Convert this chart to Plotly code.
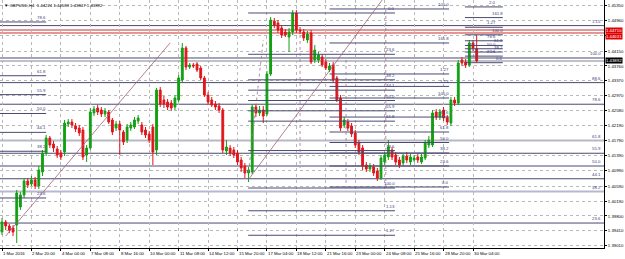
import plotly.graph_objects as go

# ---------------- data ----------------
open_ = [1.39377,1.39641,1.39536,1.39483,1.39562,1.40037,1.40354,1.40724,1.40644,1.40750,
         1.40592,1.40961,1.41463,1.41859,1.41700,1.41568,1.41463,1.41489,1.42228,1.42281,
         1.42176,1.42123,1.42070,1.41410,1.41595,1.42519,1.42651,1.42598,1.42492,1.42545,
         1.42334,1.42123,1.42228,1.42017,1.41806,1.42123,1.42149,1.42308,1.42202,1.42070,
         1.41964,1.42149,1.41542,1.43126,1.42862,1.42809,1.42783,1.42677,1.42862,1.43390,
         1.44235,1.43733,1.43786,1.43812,1.43707,1.43443,1.42994,1.42862,1.42756,1.42704,
         1.42598,1.41516,1.41595,1.41542,1.41463,1.41278,1.41120,1.40935,1.40961,1.42677,
         1.42519,1.42598,1.42492,1.43548,1.44948,1.44895,1.44763,1.44657,1.44525,1.44657,
         1.45159,1.44710,1.44657,1.44446,1.44631,1.43918,1.43918,1.43997,1.43865,1.43654,
         1.43786,1.43443,1.42915,1.42202,1.42281,1.42176,1.41991,1.41727,1.41595,1.41146,
         1.41040,1.41093,1.40988,1.40803,1.41225,1.41357,1.41542,1.41410,1.41278,1.41199,
         1.41384,1.41225,1.41278,1.41357,1.41225,1.41331,1.41674,1.41674,1.42545,1.42413,
         1.42598,1.42387,1.42255,1.42862,1.42783,1.43918,1.43865,1.43786,1.44367,1.44224]
high = [1.39747,1.39694,1.39588,1.39562,1.40486,1.40433,1.40803,1.40803,1.40856,1.40829,
        1.41120,1.41542,1.41938,1.41912,1.41780,1.41648,1.41542,1.42334,1.42360,1.42360,
        1.42255,1.42202,1.42149,1.41674,1.42651,1.42704,1.42730,1.42677,1.42651,1.42598,
        1.42387,1.42308,1.42308,1.42070,1.42228,1.42281,1.42413,1.42466,1.42281,1.42149,
        1.42044,1.42228,1.43179,1.43205,1.42968,1.42888,1.42862,1.42994,1.43522,1.44367,
        1.44288,1.43839,1.43839,1.43865,1.43760,1.43496,1.43073,1.42941,1.42836,1.42783,
        1.42651,1.41806,1.41674,1.41621,1.41542,1.41357,1.41199,1.41093,1.42756,1.42756,
        1.42704,1.42704,1.43628,1.45053,1.45027,1.44974,1.44842,1.44736,1.44763,1.45238,
        1.45238,1.44789,1.44736,1.44684,1.44710,1.44314,1.44129,1.44076,1.43944,1.43839,
        1.43865,1.43496,1.42994,1.42413,1.42360,1.42255,1.42070,1.41806,1.41674,1.41225,
        1.41199,1.41172,1.41067,1.41410,1.41489,1.41806,1.41621,1.41489,1.41357,1.41463,
        1.41489,1.41436,1.41410,1.41436,1.41436,1.41806,1.41912,1.42598,1.42624,1.42624,
        1.42677,1.42466,1.42941,1.42941,1.43918,1.43997,1.43944,1.44446,1.44446,1.44583]
low = [1.39298,1.39430,1.39351,1.39272,1.39087,1.39958,1.40275,1.40539,1.40592,1.40512,
       1.40512,1.40856,1.41384,1.41595,1.41489,1.41331,1.41278,1.41384,1.42149,1.42123,
       1.42017,1.41912,1.41278,1.41225,1.41542,1.42440,1.42466,1.42413,1.42413,1.42228,
       1.41938,1.42044,1.41410,1.41674,1.41727,1.42044,1.42096,1.42228,1.41938,1.41859,
       1.41727,1.41146,1.41410,1.42677,1.42651,1.42598,1.42572,1.42598,1.42809,1.43337,
       1.43654,1.43680,1.43707,1.43601,1.43390,1.42941,1.42730,1.42677,1.42598,1.42519,
       1.41463,1.41410,1.41384,1.41331,1.41146,1.40961,1.40803,1.40697,1.40908,1.42413,
       1.42440,1.42255,1.42440,1.43496,1.44763,1.44631,1.44499,1.44525,1.44129,1.44578,
       1.44631,1.44604,1.44420,1.44367,1.43812,1.43839,1.43839,1.43733,1.43654,1.43601,
       1.43337,1.42809,1.42044,1.42123,1.42044,1.41885,1.41595,1.41410,1.41014,1.40961,
       1.40961,1.40856,1.40724,1.40750,1.41146,1.41278,1.41278,1.41146,1.41067,1.41120,
       1.41199,1.41146,1.41225,1.41199,1.41172,1.41278,1.41595,1.41621,1.42334,1.42334,
       1.42308,1.42202,1.42176,1.42704,1.42730,1.43760,1.43707,1.43733,1.44156,1.43847]
close = [1.39641,1.39536,1.39430,1.39377,1.40407,1.40354,1.40724,1.40618,1.40750,1.40592,
         1.41014,1.41463,1.41859,1.41674,1.41595,1.41410,1.41357,1.42255,1.42281,1.42202,
         1.42096,1.41991,1.41357,1.41595,1.42545,1.42624,1.42545,1.42492,1.42572,1.42281,
         1.42017,1.42228,1.42070,1.41753,1.42149,1.42202,1.42334,1.42387,1.42017,1.41938,
         1.41806,1.41489,1.43126,1.42756,1.42756,1.42677,1.42651,1.42915,1.43443,1.44235,
         1.43733,1.43786,1.43760,1.43654,1.43443,1.42994,1.42809,1.42730,1.42677,1.42598,
         1.41542,1.41621,1.41463,1.41410,1.41225,1.41067,1.40935,1.41014,1.42677,1.42519,
         1.42598,1.42440,1.43548,1.44974,1.44842,1.44710,1.44578,1.44578,1.44657,1.45159,
         1.44710,1.44684,1.44499,1.44604,1.43865,1.44182,1.44050,1.43786,1.43707,1.43760,
         1.43390,1.42862,1.42123,1.42334,1.42123,1.41964,1.41674,1.41489,1.41120,1.41040,
         1.41120,1.40935,1.40803,1.41331,1.41410,1.41621,1.41357,1.41225,1.41146,1.41384,
         1.41278,1.41357,1.41331,1.41278,1.41357,1.41727,1.41806,1.42519,1.42413,1.42545,
         1.42387,1.42281,1.42862,1.42783,1.43839,1.43839,1.43786,1.44367,1.44235,1.43892]
bars = list(range(len(open_)))

date_label_bars = [0, 8, 16, 24, 32, 40, 48, 56, 64, 72, 80, 88, 96, 104, 112, 120, 128]
date_labels = ["1 Mar 2016", "2 Mar 20:00", "4 Mar 04:00", "7 Mar 08:00", "8 Mar 16:00",
               "10 Mar 00:00", "11 Mar 08:00", "14 Mar 12:00", "15 Mar 20:00", "17 Mar 04:00",
               "18 Mar 12:00", "21 Mar 16:00", "23 Mar 00:00", "24 Mar 08:00", "25 Mar 16:00",
               "28 Mar 20:00", "30 Mar 04:00"]

# the 1.44555 label is hidden behind the red price boxes in the reference
price_ticks = [1.45350, 1.44960, 1.44555, 1.44150, 1.43760, 1.43370, 1.42970, 1.42580, 1.42190,
               1.41790, 1.41390, 1.40990, 1.40590, 1.40190, 1.39800, 1.39410, 1.39010]
price_tick_labels = ["1.45350", "1.44960", "", "1.44150", "1.43760", "1.43370", "1.42970",
                     "1.42580", "1.42190", "1.41790", "1.41390", "1.40990", "1.40590", "1.40190",
                     "1.39800", "1.39410", "1.39010"]

header = "GBPUSD,H4  1.44224 1.44583 1.43847 1.43892"
bid_price = 1.43892
red_lines = [1.44710, 1.44631]

# Fibonacci objects: 0% price, 100% price, levels, labels, bar span
fibA_p0, fibA_p100 = 1.38268, 1.43971
fibA_levels = [23.6, 38.2, 44.1, 50.0, 55.9, 61.8, 78.6, 88.6, 100.0, 115.0]
fibA_labels = ["23.6", "38.2", "44.1", "50.0", "55.9", "61.8", "78.6", "88.6", "100.0", "1.15"]

fibB_p0, fibB_p100 = 1.38282, 1.46730
fibB_levels = [23.6, 38.2, 44.1, 50.0, 55.9, 61.8, 78.6]
fibB_labels = ["23.6", "38.2", "44.1", "50.0", "55.9", "61.8", "78.6"]
fibB_span = [-1.0, 12.0]

fibC_p0, fibC_p100 = 1.45159, 1.40539
fibC_levels = [0.0, 23.6, 38.2, 44.1, 50.0, 55.9, 61.8, 78.6, 100.0, 113.0, 127.0]
fibC_labels = ["0.0", "23.6", "38.2", "44.1", "50.0", "55.9", "61.8", "78.6", "100.0", "1.13", "1.27"]
fibC_span = [66.9, 106.8]

fibD_p0, fibD_p100 = 1.40565, 1.42915
fibD_levels = [0.0, 23.6, 38.2, 50.0, 61.8, 78.6, 100.0, 113.0, 127.0, 161.8, 200.0]
fibD_labels = ["0.0", "23.6", "38.2", "50.0", "61.8", "78.6", "100.0", "1.13", "1.27", "161.8", "100.0"]
fibD_span = [89.0, 121.5]

fibE_p0, fibE_p100 = 1.43847, 1.44583
fibE_levels = [0.0, 23.6, 38.2, 50.0, 61.8, 78.6, 100.0, 127.0, 161.8, 200.0]
fibE_labels = ["0.0", "23.6", "38.2", "50.0", "61.8", "78.6", "100.0", "1.27", "161.8", "2.0"]
fibE_span = [125.8, 136.1]

trend1_bars, trend1_prices = [1.0, 45.7], [1.3927, 1.4437]
trend2_bars, trend2_prices = [66.9, 103.3], [1.4075, 1.4550]

# dotted helper lines (bar, price) pairs
dotted_bars = [[67.0, 71.0], [81.0, 81.0], [93.5, 93.5], [104.3, 104.3]]
dotted_prices = [[1.4096, 1.4444], [1.4458, 1.4107], [1.4392, 1.4049], [1.4524, 1.4049]]

# ---------------- figure ----------------
GREEN = "#12a012"
RED = "#e0161b"
FIBCOL = "#4a4a72"
LBLCOL = "#3a3a7a"
FS = 4.3
FONT = "Liberation Sans"

fig = go.Figure()

def lvl_price(p0, p100, lv):
    return p0 + (p100 - p0) * lv / 100.0

shapes = []
for lv in fibA_levels:
    pr = lvl_price(fibA_p0, fibA_p100, lv)
    light = lv in (61.8, 38.2)
    shapes.append(dict(type="line", xref="paper", x0=0, x1=1, yref="y", y0=pr, y1=pr,
                       line=dict(color="#b8b8cc" if light else FIBCOL, width=2 if light else 1),
                       layer="below"))
for pr in red_lines:
    shapes.append(dict(type="line", xref="paper", x0=0, x1=1, yref="y", y0=pr, y1=pr,
                       line=dict(color="#c83030", width=1), layer="below"))
shapes.append(dict(type="line", xref="paper", x0=0, x1=1, yref="y", y0=bid_price, y1=bid_price,
                   line=dict(color="#c0c0c8", width=2), layer="below"))

annotations = []
for lv, lb in zip(fibA_levels, fibA_labels):
    pr = lvl_price(fibA_p0, fibA_p100, lv)
    annotations.append(dict(x=1, xref="paper", y=pr, yref="y", text=lb, showarrow=False,
                            xanchor="right", yanchor="bottom", xshift=-1,
                            font=dict(size=FS, color=LBLCOL, family=FONT)))

def add_fib(p0, p100, levels, labels, span, stagger=False):
    xs, ys = [], []
    for k, (lv, lb) in enumerate(zip(levels, labels)):
        pr = lvl_price(p0, p100, lv)
        xs += [span[0], span[1], None]
        ys += [pr, pr, None]
        dx = 2 - (7 if (stagger and k % 2 == 1) else 0)
        annotations.append(dict(x=span[1], xref="x", y=pr, yref="y", text=lb, showarrow=False,
                                xanchor="right", yanchor="bottom", xshift=dx,
                                font=dict(size=FS, color=LBLCOL, family=FONT)))
    fig.add_trace(go.Scatter(x=xs, y=ys, mode="lines", line=dict(color=FIBCOL, width=1),
                             hoverinfo="skip", showlegend=False))

add_fib(fibB_p0, fibB_p100, fibB_levels, fibB_labels, fibB_span)
add_fib(fibC_p0, fibC_p100, fibC_levels, fibC_labels, fibC_span)
add_fib(fibD_p0, fibD_p100, fibD_levels, fibD_labels, fibD_span)
add_fib(fibE_p0, fibE_p100, fibE_levels, fibE_labels, fibE_span, stagger=True)

for bx, py in zip(dotted_bars, dotted_prices):
    fig.add_trace(go.Scatter(x=bx, y=py, mode="lines",
                             line=dict(color="#a07090", width=0.8, dash="dot"),
                             hoverinfo="skip", showlegend=False))

for bx, py in ((trend1_bars, trend1_prices), (trend2_bars, trend2_prices)):
    fig.add_trace(go.Scatter(x=bx, y=py, mode="lines", line=dict(color="#a06078", width=0.8),
                             hoverinfo="skip", showlegend=False))

fig.add_trace(go.Candlestick(
    x=bars, open=open_, high=high, low=low, close=close,
    increasing=dict(line=dict(color=GREEN, width=1), fillcolor=GREEN),
    decreasing=dict(line=dict(color=RED, width=1), fillcolor=RED),
    whiskerwidth=0, showlegend=False, hoverinfo="skip"))

for b, lb in zip(date_label_bars, date_labels):
    annotations.append(dict(x=b, xref="x", y=0, yref="paper", text=lb, showarrow=False,
                            xanchor="left", yanchor="top", xshift=-1, yshift=-1,
                            font=dict(size=FS, color="#000000", family=FONT)))

annotations.append(dict(x=0, xref="paper", y=1, yref="paper", text="\u25bc " + header,
                        showarrow=False, xanchor="left", yanchor="top", xshift=2, yshift=-1,
                        font=dict(size=FS, color="#000000", family=FONT)))

# price boxes on the axis (two red ones stacked, then the bid)
for pr, col, ys in ((red_lines[0], "#e00000", -0.5), (red_lines[1], "#e00000", -4.0),
                    (bid_price, "#000000", 0)):
    annotations.append(dict(x=1, xref="paper", y=pr, yref="y", text="%.5f" % pr, showarrow=False,
                            xanchor="left", yanchor="middle", xshift=1, yshift=ys, bgcolor=col,
                            borderpad=0, font=dict(size=FS, color="#ffffff", family=FONT)))

fig.update_layout(
    width=625, height=259, margin=dict(l=0, r=21, t=0, b=11),
    paper_bgcolor="#ffffff", plot_bgcolor="#ffffff",
    shapes=shapes, annotations=annotations, showlegend=False,
    xaxis=dict(range=[-0.543, 163.6], rangeslider=dict(visible=False),
               tickvals=date_label_bars, showticklabels=False, ticks="outside", ticklen=2,
               tickcolor="#000000", showgrid=True, gridcolor="#b8b8b8", griddash="dot",
               gridwidth=1, showline=True, linecolor="#000000", linewidth=1, mirror=True,
               zeroline=False),
    yaxis=dict(range=[1.38955, 1.45502], side="right", tickvals=price_ticks,
               ticktext=price_tick_labels, ticks="outside", ticklen=2, tickcolor="#000000",
               tickfont=dict(size=FS, color="#000000", family=FONT),
               showgrid=True, gridcolor="#b8b8b8", griddash="dot", gridwidth=1,
               showline=True, linecolor="#000000", linewidth=1, mirror=True, zeroline=False),
)

fig.write_html("out.html")
